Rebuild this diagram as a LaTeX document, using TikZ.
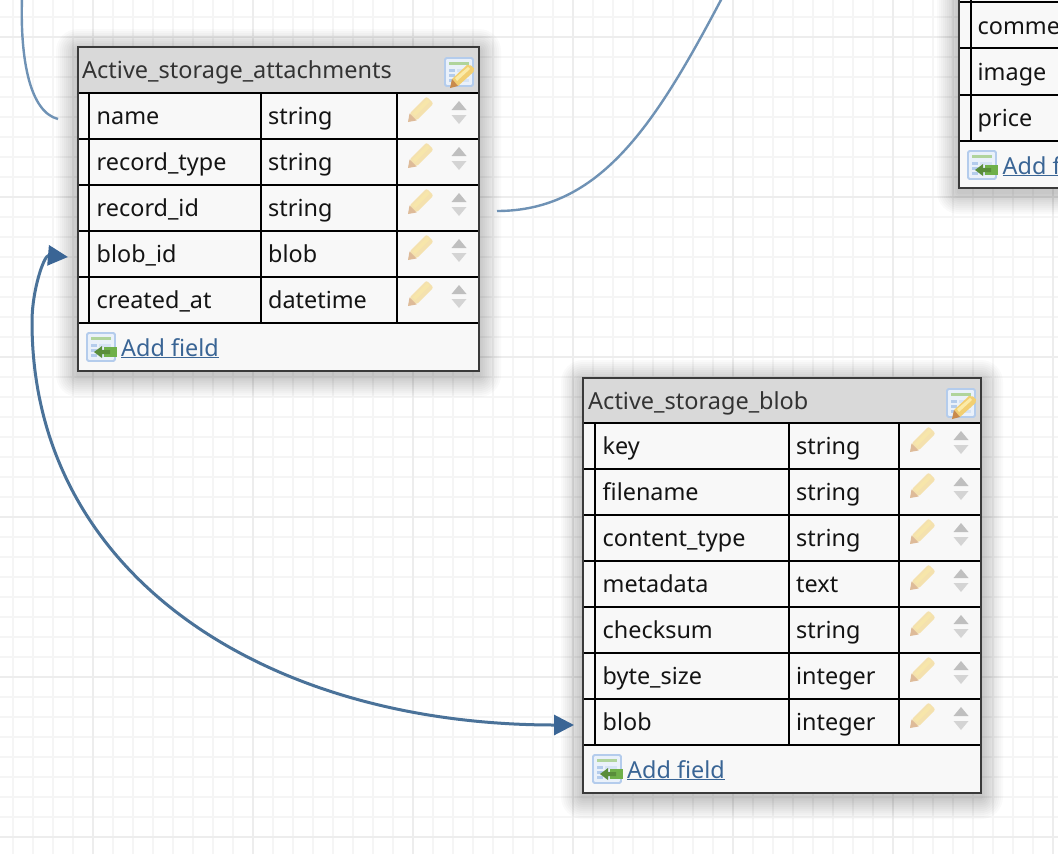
\documentclass[tikz,border=0pt]{standalone}
\usepackage{fontspec}
\setmainfont{Noto Sans}
\usetikzlibrary{arrows.meta}
\definecolor{fineg}{HTML}{F5F5F5}
\definecolor{majorg}{HTML}{EDEDED}
\definecolor{rowbg}{HTML}{F8F8F8}
\definecolor{headbg}{HTML}{D9D9D9}
\definecolor{edgec}{HTML}{3A3A3A}
\definecolor{linkc}{HTML}{3A6595}
\definecolor{thickc}{HTML}{4A7299}
\definecolor{thinc}{HTML}{6F92B5}
\definecolor{iconb}{HTML}{B4CCEC}
\definecolor{iconf}{HTML}{EAF1FA}
\definecolor{greenc}{HTML}{6FB04A}
\definecolor{penc}{HTML}{F2CF72}
\definecolor{penl}{HTML}{FBEBA8}
\definecolor{penw}{HTML}{C98A4B}
\tikzset{
  x=1pt,y=-1pt,
  fieldtext/.style={anchor=base west,inner sep=0pt,font=\fontsize{23.4}{26}\selectfont,text=black!92},
  headtext/.style={anchor=base west,inner sep=0pt,font=\fontsize{23.5}{26}\selectfont,text=black!80},
  linktext/.style={anchor=base west,inner sep=0pt,font=\fontsize{23.4}{26}\selectfont,text=linkc},
  gridline/.style={draw=black,line width=2pt},
  outer/.style={draw=edgec,line width=2pt},
  thinlink/.style={draw=thinc,line width=2.4pt},
  thicklink/.style={draw=thickc,line width=3pt,{Triangle[length=20pt,width=20pt,color=linkc]}-{Triangle[length=20pt,width=20pt,color=linkc]}},
  pics/pencil/.style={code={
    \begin{scope}[opacity=.55]
      \fill[penc,rounded corners=2pt] (-10.5,3.5) -- (6.5,-13.5) -- (13.5,-6.5) -- (-3.5,10.5) -- cycle;
      \fill[penl] (-7.5,3.5) -- (7,-11) -- (9.5,-8.5) -- (-5,6) -- cycle;
      \fill[penw] (-12,12) -- (-10.5,3.5) -- (-3.5,10.5) -- cycle;
    \end{scope}}},
  pics/spinner/.style={code={
    \fill[black!25] (-7.5,-6) -- (0,-15) -- (7.5,-6) -- cycle;
    \fill[black!17] (-7.5,-1) -- (0,8) -- (7.5,-1) -- cycle;}},
  pics/tableicon/.style={code={
    \fill[iconf,draw=iconb,line width=1.8pt,rounded corners=1.5pt] (0,0) rectangle (28,28);
    \fill[greenc!55!white] (4,4) rectangle (24,6.5);
    \foreach \yy in {11,16,21} {\fill[iconb] (4,\yy) rectangle (10,\yy+2.5); \fill[iconb!55] (12,\yy) rectangle (24,\yy+2.5);}
  }},
  pics/editicon/.style={code={
    \pic at (0,0) {tableicon};
    \fill[penc] (7,21) -- (22,7) -- (26,7.5) -- (29,10.5) -- (28.5,14) -- (13,28) -- cycle;
    \fill[penl] (10,20) -- (23,9) -- (25,11) -- (12,23) -- cycle;
    \fill[penw] (5,30) -- (7,21) -- (13,28) -- cycle;
  }},
  pics/addicon/.style={code={
    \pic at (0,0) {tableicon};
    \fill[greenc] (17,13.5) rectangle (30,24);
    \fill[greenc!80!black] (7,19) -- (15,13) -- (15,17) -- (23,17) -- (23,21) -- (15,21) -- (15,25) -- cycle;
  }},
}
% soft shadow: x0 y0 x1 y1
\newcommand{\softshadow}[4]{%
  \foreach \gr in {22,20,...,2} {
    \fill[black,opacity=.02,rounded corners=\gr pt] (#1-\gr,#2-\gr+4) rectangle (#3+\gr,#4+\gr+4);
  }}
\newcommand{\fieldrow}[9]{%
  \node[fieldtext] (#1f#2) at (#4+7.5,#3+31) {#8};
  \node[fieldtext] (#1t#2) at (#5+7,#3+31) {#9};
  \pic at (#6+23,#3+17) {pencil};
  \pic at (#6+62,#3+23) {spinner};
  \draw[gridline] (#7,#3+46) -- (#4-12,#3+46);
  \draw[gridline] (#4,#3) -- (#4,#3+46);
  \draw[gridline] (#5,#3) -- (#5,#3+46);
  \draw[gridline] (#6,#3) -- (#6,#3+46);}
\begin{document}
\begin{tikzpicture}
\useasboundingbox (0,0) rectangle (1058,854);
\clip (0,0) rectangle (1058,854);
\fill[white] (0,0) rectangle (1058,854);
% grid
\foreach \gx in {13,33,...,1053} \draw[fineg,line width=2.4pt] (\gx,0) -- (\gx,854);
\foreach \gy in {17,37,...,837} \draw[fineg,line width=2.4pt] (0,\gy) -- (1058,\gy);
\foreach \gx in {93,253,...,1053} \draw[majorg,line width=2.4pt] (\gx,0) -- (\gx,854);
\foreach \gy in {37,197,...,837} \draw[majorg,line width=2.4pt] (0,\gy) -- (1058,\gy);
% shadows
\softshadow{78}{47}{479}{371}
\softshadow{583}{378}{981}{793}
\softshadow{959}{-40}{1120}{188}
% connector ends
\coordinate (c1a) at (22,-2);
\coordinate (c1b) at (58,119);
\coordinate (c2a) at (497,211);
\coordinate (c2b) at (722,-2);
\coordinate (c3a) at (68,257);
\coordinate (c3m) at (32,322);
\coordinate (c3b) at (574,725);
% table 1
\fill[rowbg] (78,47) rectangle (479,371);
\fill[headbg] (78,47) rectangle (479,93);
\node[headtext] (t1title) at (82,78) {Active\_storage\_attachments};
\pic at (445,58) {editicon};
\draw[gridline] (78,93) -- (479,93);
\fieldrow{a}{1}{93}{89}{261}{397}{479}{name}{string}
\fieldrow{a}{2}{139}{89}{261}{397}{479}{record\_type}{string}
\fieldrow{a}{3}{185}{89}{261}{397}{479}{record\_id}{string}
\fieldrow{a}{4}{231}{89}{261}{397}{479}{blob\_id}{blob}
\fieldrow{a}{5}{277}{89}{261}{397}{479}{created\_at}{datetime}
\pic at (87,333) {addicon};
\node[linktext] (t1add) at (121,356) {\underline{Add field}};
\draw[outer] (78,47) rectangle (479,371);
% table 2
\fill[rowbg] (583,378) rectangle (981,793);
\fill[headbg] (583,378) rectangle (981,423);
\node[headtext] (t2title) at (588,409) {Active\_storage\_blob};
\pic at (947,389) {editicon};
\draw[gridline] (583,423) -- (981,423);
\fieldrow{b}{1}{423}{595}{789}{899}{981}{key}{string}
\fieldrow{b}{2}{469}{595}{789}{899}{981}{filename}{string}
\fieldrow{b}{3}{515}{595}{789}{899}{981}{content\_type}{string}
\fieldrow{b}{4}{561}{595}{789}{899}{981}{metadata}{text}
\fieldrow{b}{5}{607}{595}{789}{899}{981}{checksum}{string}
\fieldrow{b}{6}{653}{595}{789}{899}{981}{byte\_size}{integer}
\fieldrow{b}{7}{699}{595}{789}{899}{981}{blob}{integer}
\pic at (593,755) {addicon};
\node[linktext] (t2add) at (627,778) {\underline{Add field}};
\draw[outer] (583,378) rectangle (981,793);
% table 3
\fill[rowbg] (959,-10) rectangle (1070,188);
\node[fieldtext] (c1) at (977.5,34) {comme};
\node[fieldtext] (c2) at (977.5,80) {image};
\node[fieldtext] (c3) at (977.5,126) {price};
\foreach \ry in {2,48,95,141} \draw[gridline] (959,\ry) -- (1070,\ry);
\draw[gridline] (971,-10) -- (971,141);
\pic at (968,151) {addicon};
\node[linktext] (t3add) at (1002.5,174) {\underline{Add f}};
\draw[outer] (959,-10) rectangle (1070,188);
% connectors
\draw[thinlink] (c1a) .. controls (20,60) and (30,112) .. (c1b);
\draw[thinlink] (c2a) .. controls (600,211) and (655,125) .. (c2b);
\draw[thicklink] (c3a) .. controls (44,255) and (32,290) .. (c3m) .. controls (32,575) and (265,725) .. (c3b);
\end{tikzpicture}
\end{document}
